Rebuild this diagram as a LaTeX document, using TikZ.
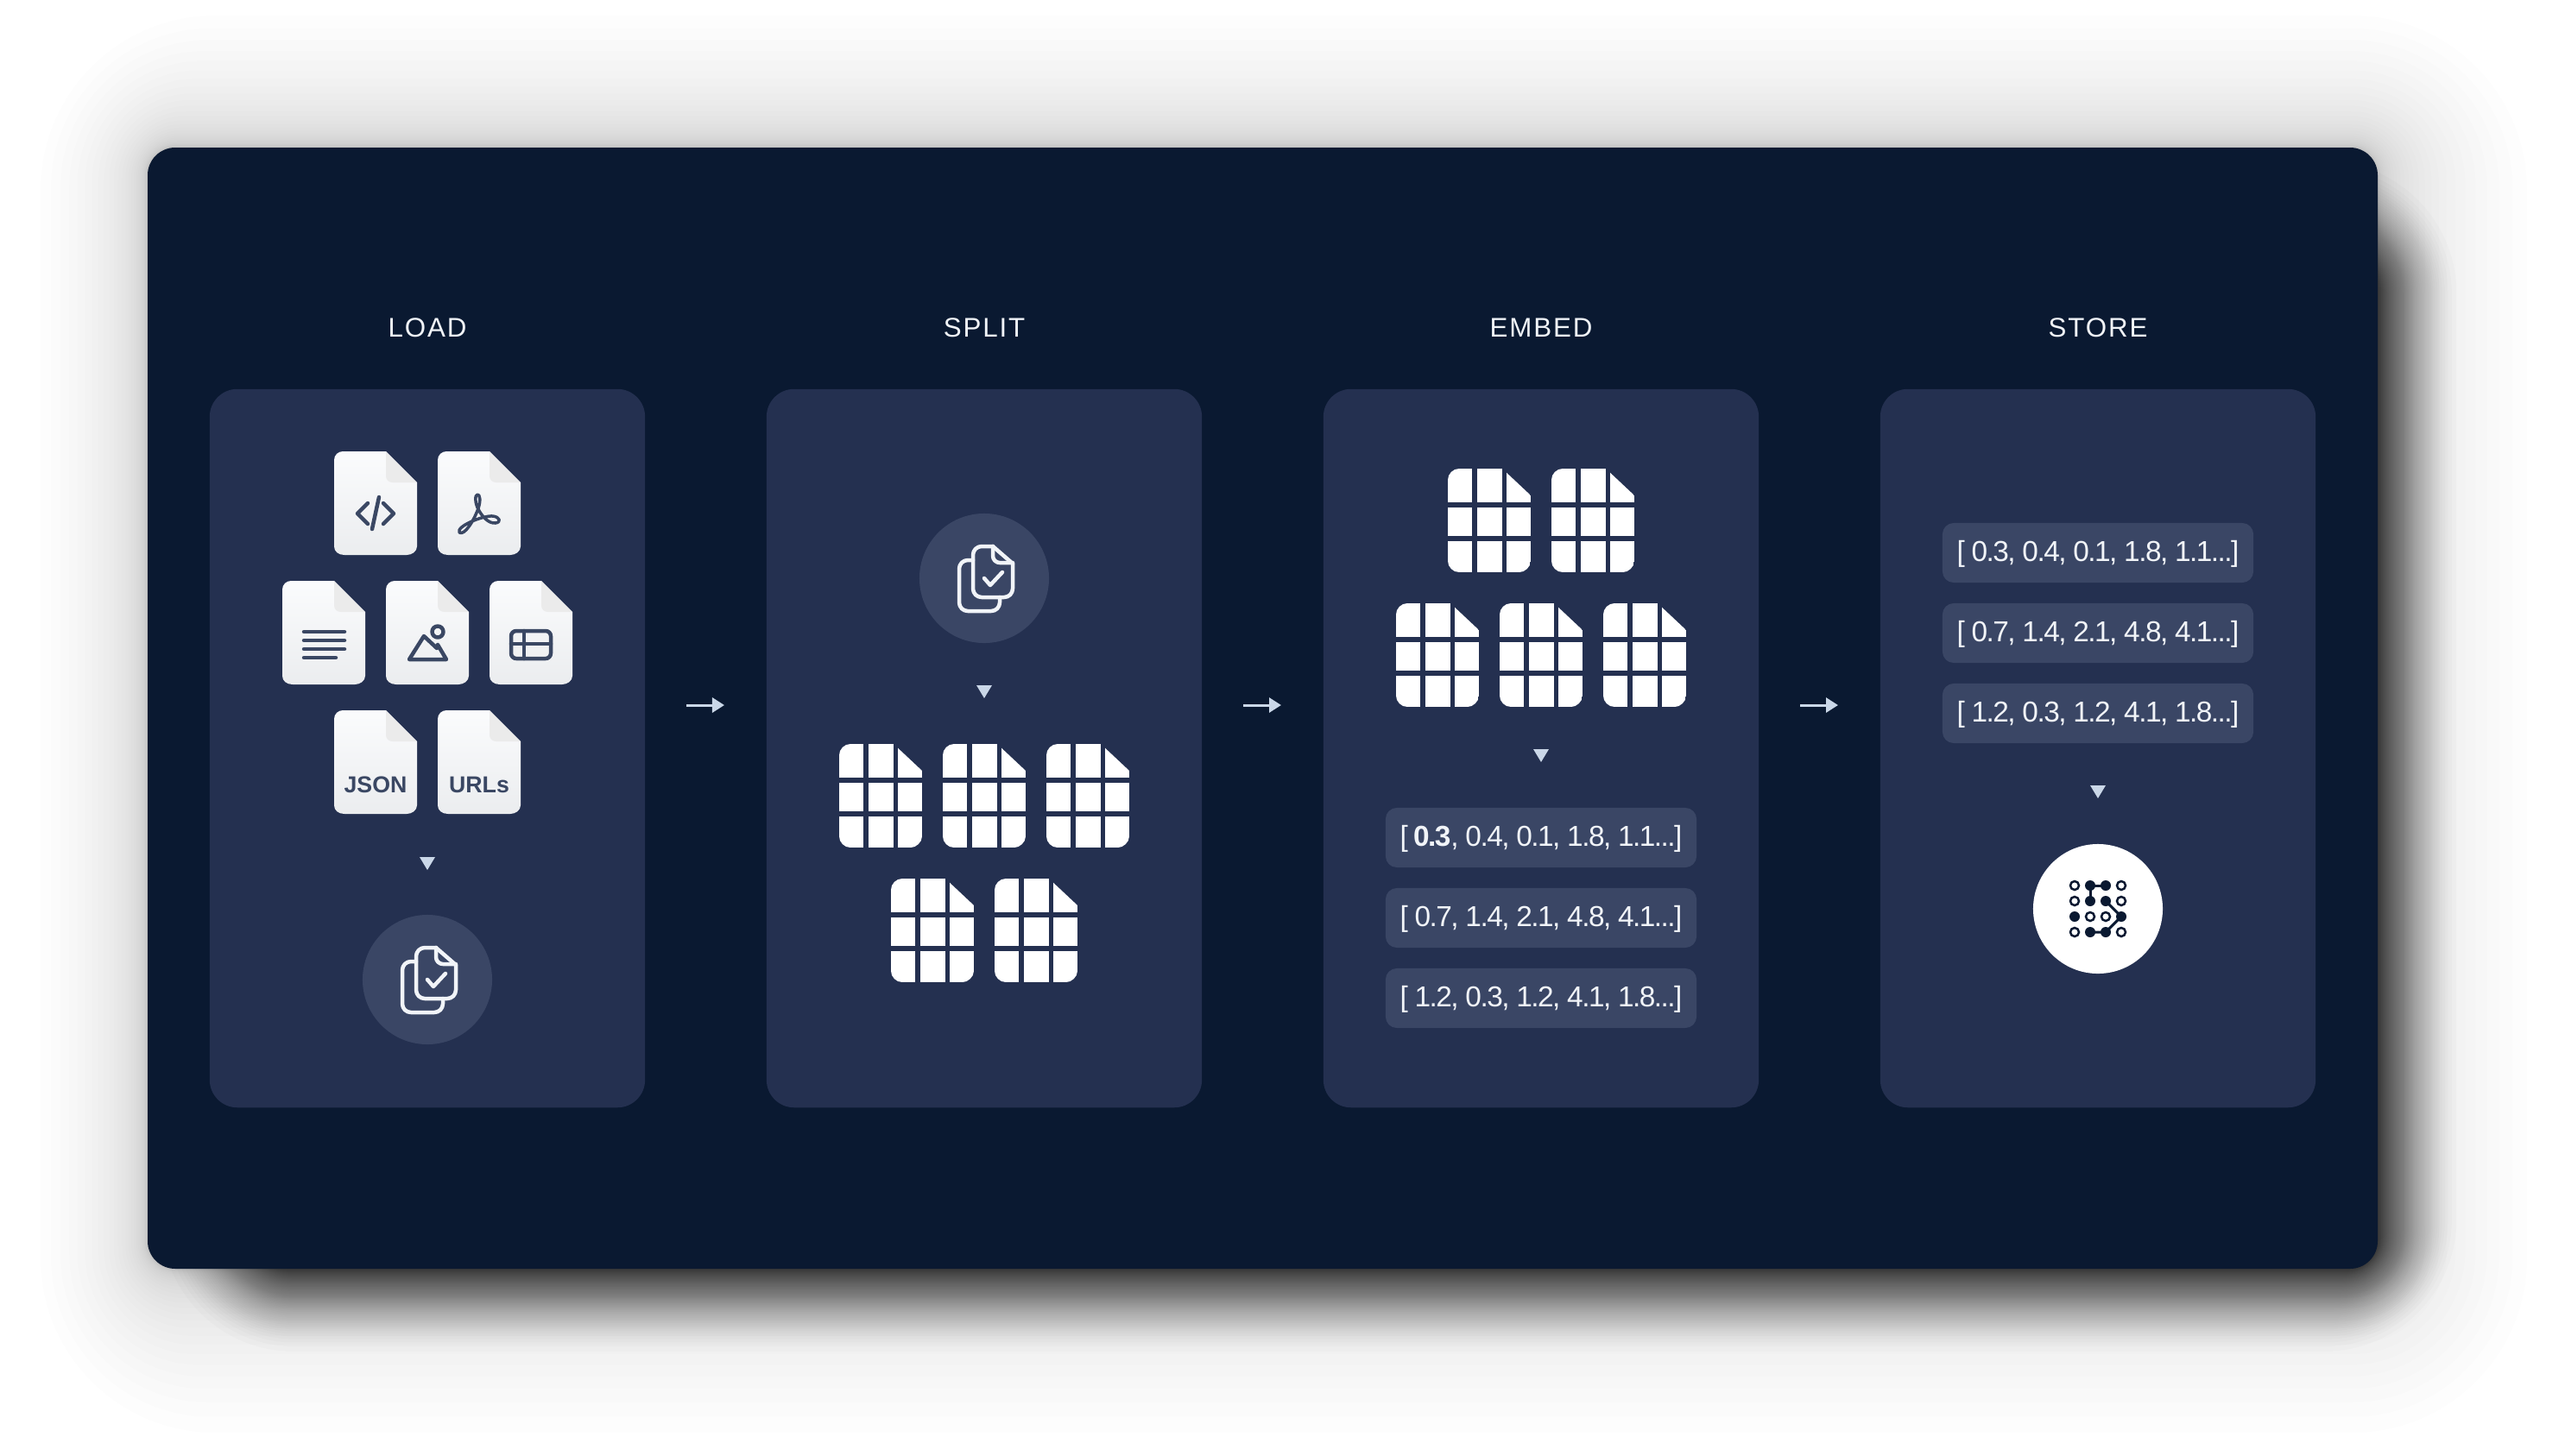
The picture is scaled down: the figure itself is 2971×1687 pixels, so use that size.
\documentclass[tikz,border=0pt]{standalone}
\usepackage{fontspec}
\usepackage{tikz}
\usetikzlibrary{arrows.meta}
\setmainfont{Liberation Sans}
\newfontfamily\headfont[LetterSpace=6]{Liberation Sans}
\newfontfamily\vecfont[LetterSpace=-4.6]{Liberation Sans}

\definecolor{bgnavy}{HTML}{0A1931}
\definecolor{panelnavy}{HTML}{243050}
\definecolor{badgenavy}{HTML}{3A4665}
\definecolor{iconink}{HTML}{3A4763}
\definecolor{paletext}{HTML}{F1F4F8}
\definecolor{marker}{HTML}{CAD7E8}

\tikzset{
	panel/.style={fill=panelnavy, rounded corners=.32cm, minimum width=5.04cm, minimum height=8.32cm, inner sep=0},
	heading/.style={anchor=base, text=paletext, inner sep=0, font=\headfont\fontsize{8.9}{10}\selectfont},
	vecbox/.style={fill=badgenavy, rounded corners=.13cm, minimum width=3.6cm, minimum height=.69cm, inner sep=0, text=paletext, text height=.24cm, text depth=.04cm, font=\vecfont\fontsize{9.5}{11}\selectfont},
	flow/.style={-{Triangle[length=.14cm, width=.17cm]}, line width=.03cm, draw=marker},
	badge/.style={circle, fill=badgenavy, minimum size=1.5cm, inner sep=0},
	ink/.style={draw=iconink, line width=.045cm, line cap=round, line join=round},
	doctag/.style={inner sep=0, text=iconink, font=\fontsize{7.6}{9}\selectfont\bfseries},
	pics/page/.style={code={
		\shade[top color=white!70!paletext, bottom color=paletext!92!black!60!white] (10,0) -- (60,0) -- (96,36) -- (96,110) .. controls (96,116) and (90,120) .. (84,120) -- (12,120) .. controls (5,120) and (0,116) .. (0,110) -- (0,10) .. controls (0,4) and (5,0) .. (10,0) -- cycle;
		\fill[black!8] (60,0) -- (96,36) -- (68,36) .. controls (63,36) and (60,33) .. (60,28) -- cycle;
	}},
	pics/gridpage/.style={code={
		\begin{scope}
			\clip (13,0) -- (63,0) -- (96,31) -- (96,107) .. controls (96,114) and (89,120) .. (83,120) -- (13,120) .. controls (6,120) and (0,114) .. (0,107) -- (0,13) .. controls (0,6) and (6,0) .. (13,0) -- cycle;
			\foreach \cx/\cw in {0/28, 33.5/29.5, 68/28}
				\foreach \cy/\ch in {0/39, 45/33, 84/36}
					\fill[white] (\cx,\cy) rectangle ++(\cw,\ch);
		\end{scope}
	}},
	pics/copycheck/.style={code={
		\begin{scope}[draw=paletext, line width=.045cm, line cap=round, line join=round]
			\draw[rounded corners=.1cm] (-13,-21) -- (-29,-21) -- (-29,38) -- (18,38) -- (18,22);
			\draw[rounded corners=.1cm] (10,-37) -- (-13,-37) -- (-13,22) -- (33,22) -- (33,-17);
			\draw (33,-17) -- (10,-37);
			\draw[rounded corners=.08cm] (10,-37) -- (10,-18) -- (33,-18);
			\draw (0,0) -- (7,8) -- (21,-7);
		\end{scope}
	}},
	pics/downmark/.style={code={
		\fill[marker] (-9,-7) -- (9,-7) -- (0,8) -- cycle;
	}},
}

\begin{document}
\begin{tikzpicture}[x=.01cm, y=-.01cm]
	\useasboundingbox (0,0) rectangle (2971,1687);
	\fill[white] (0,0) rectangle (2971,1687);

	% soft glow, then the heavier shadow to the lower right
	\foreach \i in {1,...,40} {
		\pgfmathsetmacro\spread{(\i/40)^4}
		\pgfmathsetmacro\rad{.32+1.7*\spread}
		\fill[black, opacity=.006, rounded corners=\rad cm] (171-124*\spread,171-153*\spread) rectangle (2754+173*\spread,1470+190*\spread);
	}
	\foreach \i in {1,...,60} {
		\pgfmathsetmacro\spread{1-sqrt(\i/60)}
		\pgfmathsetmacro\rad{.4+1.3*\spread}
		\fill[black, opacity=.014, rounded corners=\rad cm] (300-130*\spread,300-130*\spread) rectangle (2754+105*\spread,1470+110*\spread);
	}
	\fill[bgnavy, rounded corners=.32cm] (171,171) rectangle (2754,1470);

	% the four stages
	\node[panel] (load) at (495,867) {};
	\node[panel] (split) at (1140,867) {};
	\node[panel] (embed) at (1785,867) {};
	\node[panel] (store) at (2430,867) {};
	\node[heading] (loadhead) at (495,390) {LOAD};
	\node[heading] (splithead) at (1140,390) {SPLIT};
	\node[heading] (embedhead) at (1785,390) {EMBED};
	\node[heading] (storehead) at (2430,390) {STORE};

	% arrows between the stages
	\coordinate (loadout) at (795,817);
	\coordinate (splitin) at (839,817);
	\coordinate (splitout) at (1440,817);
	\coordinate (embedin) at (1484,817);
	\coordinate (embedout) at (2085,817);
	\coordinate (storein) at (2129,817);
	\draw[flow] (loadout) -- (splitin);
	\draw[flow] (splitout) -- (embedin);
	\draw[flow] (embedout) -- (storein);

	% load
	\foreach \px/\py in {387/523, 507/523, 327/673, 447/673, 567/673, 387/823, 507/823}
		\pic at (\px,\py) {page};
	\begin{scope}[shift={(387,523)}]
		\draw[ink] (39,60) -- (27,72) -- (39,84);
		\draw[ink] (52,53) -- (44,90);
		\draw[ink] (57,60) -- (69,72) -- (57,84);
	\end{scope}
	\begin{scope}[shift={(507,523)}]
		\draw[ink, line width=.035cm] (25,94) .. controls (31,98) and (42,80) .. (47,66) .. controls (50,57) and (49,50) .. (46,50) .. controls (43,50) and (43,60) .. (47,67) .. controls (51,75) and (59,84) .. (67,83) .. controls (74,82) and (72,76) .. (64,75) .. controls (52,74) and (21,87) .. (25,94) -- cycle;
	\end{scope}
	\begin{scope}[shift={(327,673)}]
		\draw[ink] (25,59) -- (72,59);
		\draw[ink] (25,69) -- (72,69);
		\draw[ink] (25,79) -- (72,79);
		\draw[ink] (25,89) -- (62,89);
	\end{scope}
	\begin{scope}[shift={(447,673)}]
		\draw[ink] (59,78) -- (44,64) -- (27,91) -- (70,91) -- (60,74);
		\draw[ink] (60,59) circle [radius=6.5];
	\end{scope}
	\begin{scope}[shift={(567,673)}]
		\draw[ink, rounded corners=.06cm] (25,58) rectangle (71,90);
		\draw[ink] (25,73) -- (71,73);
		\draw[ink] (40,58) -- (40,90);
	\end{scope}
	\node[doctag] (jsontag) at (435,909) {JSON};
	\node[doctag] (urlstag) at (555,909) {URLs};
	\pic at (495,1000) {downmark};
	\node[badge] (loadbadge) at (495,1135) {};
	\pic at (loadbadge) {copycheck};

	% split
	\node[badge] (splitbadge) at (1140,670) {};
	\pic at (splitbadge) {copycheck};
	\pic at (1140,801) {downmark};
	\foreach \px/\py in {972/862, 1092/862, 1212/862, 1032/1018, 1152/1018}
		\pic at (\px,\py) {gridpage};

	% embed
	\foreach \px/\py in {1677/543, 1797/543, 1617/699, 1737/699, 1857/699}
		\pic at (\px,\py) {gridpage};
	\pic at (1785,875) {downmark};
	\node[vecbox] (embedvecone) at (1785,970.5) {[ \textbf{0.3}, 0.4, 0.1, 1.8, 1.1...]};
	\node[vecbox] (embedvectwo) at (1785,1063.5) {[ 0.7, 1.4, 2.1, 4.8, 4.1...]};
	\node[vecbox] (embedvecthree) at (1785,1156.5) {[ 1.2, 0.3, 1.2, 4.1, 1.8...]};

	% store
	\node[vecbox] (storevecone) at (2430,640.5) {[ 0.3, 0.4, 0.1, 1.8, 1.1...]};
	\node[vecbox] (storevectwo) at (2430,733.5) {[ 0.7, 1.4, 2.1, 4.8, 4.1...]};
	\node[vecbox] (storevecthree) at (2430,826.5) {[ 1.2, 0.3, 1.2, 4.1, 1.8...]};
	\pic at (2430,917) {downmark};
	\node[badge, fill=white] (storebadge) at (2430,1053) {};
	\begin{scope}[shift={(2403,1026)}, draw=bgnavy, line width=.025cm]
		\draw[line width=.03cm] (18,0) -- (36,0);
		\draw[line width=.03cm] (18,0) -- (18,18);
		\draw[line width=.03cm] (36,18) -- (54,36) -- (36,54) -- (18,54);
		\foreach \cx/\cy in {0/0, 54/0, 0/18, 54/18, 18/36, 36/36, 0/54, 54/54}
			\draw (\cx,\cy) circle [radius=5];
		\foreach \cx/\cy in {18/0, 36/0, 18/18, 36/18, 0/36, 54/36, 18/54, 36/54}
			\fill[bgnavy] (\cx,\cy) circle [radius=6];
	\end{scope}
\end{tikzpicture}
\end{document}
